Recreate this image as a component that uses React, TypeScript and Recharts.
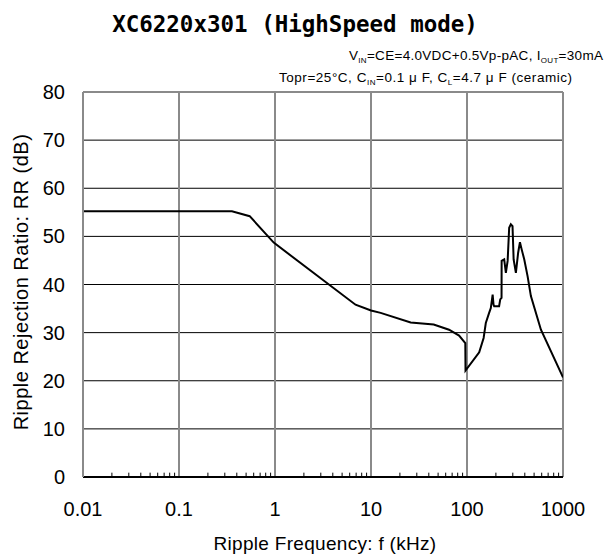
import React from 'react';
import { LineChart, Line, XAxis, YAxis, CartesianGrid, ReferenceLine } from 'recharts';

const freqKHz = [0.01, 0.356, 0.545, 0.97, 6.9, 10, 12.6, 25.9, 45, 65, 82.7, 96, 96.5, 134, 149, 157, 170, 177, 185, 189, 192, 216, 222, 229, 229.5, 244, 254, 265, 275, 286, 298, 306, 323, 341, 356, 371, 395, 428, 463, 589, 1000];
const rrDb = [55.2, 55.2, 54.2, 48.7, 35.8, 34.6, 34.1, 32.1, 31.7, 30.6, 29.4, 27.8, 22.1, 25.9, 28.9, 32.0, 34.1, 35.1, 37.9, 35.8, 35.5, 35.5, 36.9, 37.2, 44.9, 45.2, 42.4, 44.9, 51.8, 52.5, 52.1, 45.2, 42.4, 46.6, 48.8, 47.3, 45.2, 41.7, 37.6, 30.6, 20.7];

const xTicks = [0.01, 0.1, 1, 10, 100, 1000];
const xTickLabels = ['0.01', '0.1', '1', '10', '100', '1000'];
const xGridLines = [0.1, 1, 10, 100];
const yTicks = [0, 10, 20, 30, 40, 50, 60, 70, 80];
const minorTicks = [
  0.02, 0.03, 0.04, 0.05, 0.06, 0.07, 0.08, 0.09,
  0.2, 0.3, 0.4, 0.5, 0.6, 0.7, 0.8, 0.9,
  2, 3, 4, 5, 6, 7, 8, 9,
  20, 30, 40, 50, 60, 70, 80, 90,
  200, 300, 400, 500, 600, 700, 800, 900,
];

const data = freqKHz.map((f, i) => ({ f, rr: rrDb[i] }));

const GRAY = '#8a8a8a';
const SANS = '"Liberation Sans", Arial, sans-serif';

export default function App() {
  return (
    <div style={{ position: 'absolute', left: 0, top: 0, width: 613, height: 557, background: '#fff' }}>
      <LineChart
        width={613}
        height={557}
        data={data}
        margin={{ top: 92, right: 50, bottom: 30, left: 23 }}
      >
        <CartesianGrid vertical={false} stroke="#000" strokeWidth={1} />
        <XAxis
          dataKey="f"
          type="number"
          scale="log"
          domain={[0.01, 1000]}
          allowDataOverflow
          ticks={xTicks}
          tickFormatter={(v: number) => xTickLabels[xTicks.indexOf(v)] ?? String(v)}
          height={50}
          tickSize={0}
          tickMargin={25}
          axisLine={{ stroke: '#000', strokeWidth: 2 }}
          tick={{ fontFamily: SANS, fontSize: 20, fill: '#000' }}
        />
        <YAxis
          type="number"
          domain={[0, 80]}
          ticks={yTicks}
          width={60}
          tickSize={0}
          tickMargin={18}
          axisLine={{ stroke: GRAY, strokeWidth: 2 }}
          tick={{ fontFamily: SANS, fontSize: 20, fill: '#000' }}
        />
        {xGridLines.map((x) => (
          <ReferenceLine key={'g' + x} x={x} stroke={GRAY} strokeWidth={2} />
        ))}
        <ReferenceLine x={1000} stroke={GRAY} strokeWidth={2} />
        <ReferenceLine y={80} stroke={GRAY} strokeWidth={2} />
        {minorTicks.map((m) => (
          <ReferenceLine
            key={'m' + m}
            segment={[{ x: m, y: 0 }, { x: m, y: 0.9 }]}
            stroke="#000"
            strokeWidth={1}
          />
        ))}
        <Line
          type="linear"
          dataKey="rr"
          stroke="#000"
          strokeWidth={2}
          dot={false}
          isAnimationActive={false}
        />
      </LineChart>
      <svg
        width={613}
        height={557}
        style={{ position: 'absolute', left: 0, top: 0, pointerEvents: 'none' }}
      >
        <text
          x={295}
          y={31.5}
          textAnchor="middle"
          fontFamily='"DejaVu Sans Mono", monospace'
          fontWeight="bold"
          fontSize={22.5}
          fill="#000"
        >
          XC6220x301 (HighSpeed mode)
        </text>
        <text x={349} y={60} fontFamily={SANS} fontSize={13.5} letterSpacing={0.3} fill="#000">
          V<tspan fontSize={8} dy={3}>IN</tspan>
          <tspan dy={-3}>=CE=4.0VDC+0.5Vp-pAC, I</tspan>
          <tspan fontSize={8} dy={3}>OUT</tspan>
          <tspan dy={-3}>=30mA</tspan>
        </text>
        <text x={279} y={82} textLength={293} lengthAdjust="spacing" fontFamily={SANS} fontSize={13.5} fill="#000">
          Topr=25°C, C<tspan fontSize={8} dy={3}>IN</tspan>
          <tspan dy={-3}>=0.1 μ F, C</tspan>
          <tspan fontSize={8} dy={3}>L</tspan>
          <tspan dy={-3}>=4.7 μ F (ceramic)</tspan>
        </text>
        <text
          x={27.5}
          y={282}
          transform="rotate(-90, 27.5, 282)"
          textAnchor="middle"
          fontFamily={SANS}
          fontSize={20}
          letterSpacing={0.5}
          fill="#000"
        >
          Ripple Rejection Ratio: RR (dB)
        </text>
        <text
          x={325}
          y={550}
          textAnchor="middle"
          fontFamily={SANS}
          fontSize={19}
          letterSpacing={0.3}
          fill="#000"
        >
          Ripple Frequency: f (kHz)
        </text>
      </svg>
    </div>
  );
}
